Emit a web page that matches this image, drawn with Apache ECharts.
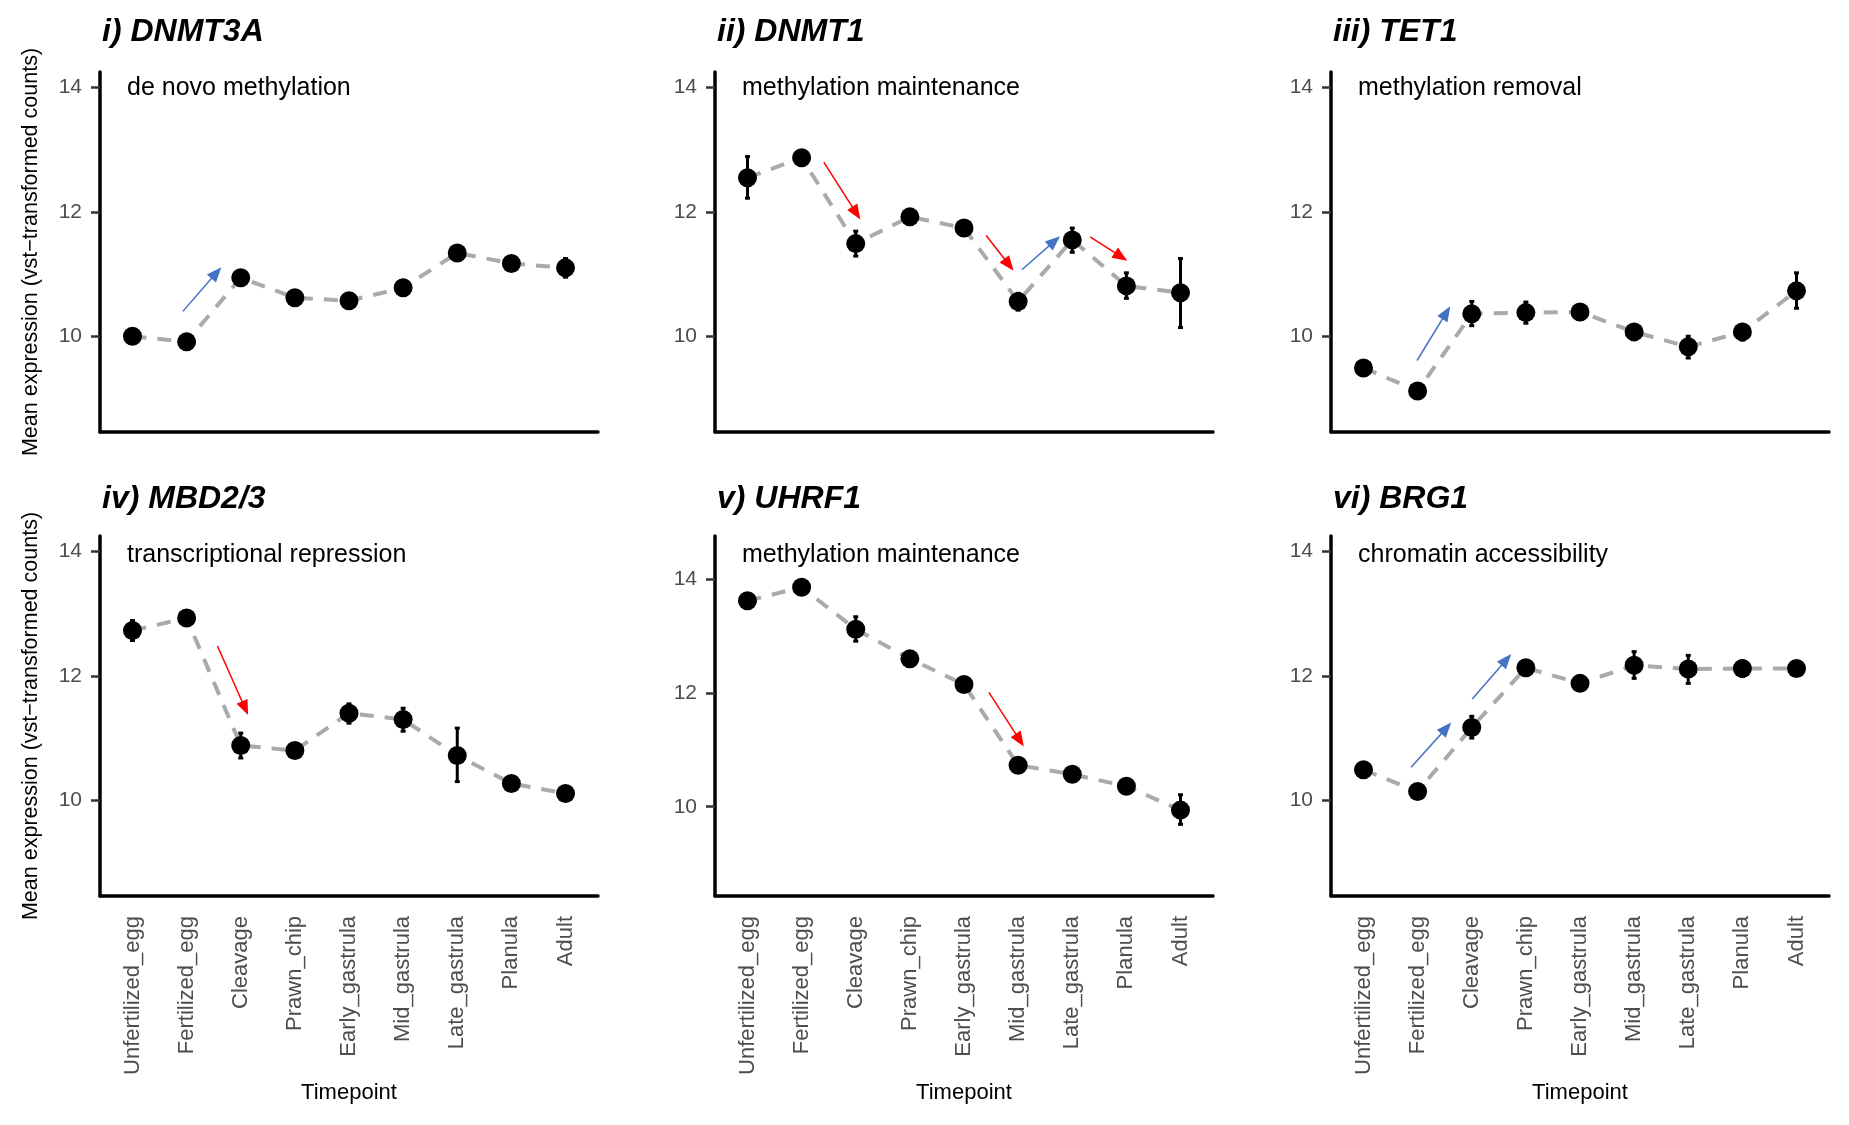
<!DOCTYPE html>
<html>
<head>
<meta charset="utf-8">
<script src="https://cdn.jsdelivr.net/npm/echarts@6/dist/echarts.min.js"></script>
<style>html,body{margin:0;padding:0;background:#fff;}#chart{width:1849px;height:1125px;}</style>
</head>
<body>
<div id="chart"></div>
<script>
// ---- data ----
const categories = ['Unfertilized_egg','Fertilized_egg','Cleavage','Prawn_chip','Early_gastrula','Mid_gastrula','Late_gastrula','Planula','Adult'];
const yTicks = [10, 12, 14];

const geneTitles = ['i) DNMT3A', 'ii) DNMT1', 'iii) TET1', 'iv) MBD2/3', 'v) UHRF1', 'vi) BRG1'];
const geneRoles = ['de novo methylation', 'methylation maintenance', 'methylation removal', 'transcriptional repression', 'methylation maintenance', 'chromatin accessibility'];

const DNMT3A_mean = [10.00, 9.91, 10.94, 10.62, 10.57, 10.78, 11.34, 11.17, 11.10];
const DNMT3A_lo   = [9.95, 9.86, 10.88, 10.57, 10.52, 10.72, 11.29, 11.12, 10.95];
const DNMT3A_hi   = [10.05, 9.96, 11.00, 10.67, 10.62, 10.84, 11.39, 11.22, 11.25];

const DNMT1_mean = [12.55, 12.87, 11.49, 11.92, 11.74, 10.56, 11.55, 10.81, 10.70];
const DNMT1_lo   = [12.22, 12.82, 11.29, 11.87, 11.69, 10.42, 11.35, 10.61, 10.14];
const DNMT1_hi   = [12.89, 12.92, 11.69, 11.97, 11.79, 10.69, 11.74, 11.02, 11.25];

const TET1_mean = [9.49, 9.12, 10.36, 10.38, 10.39, 10.07, 9.83, 10.07, 10.73];
const TET1_lo   = [9.44, 9.07, 10.17, 10.21, 10.34, 10.02, 9.65, 9.94, 10.45];
const TET1_hi   = [9.54, 9.17, 10.56, 10.55, 10.44, 10.12, 10.00, 10.19, 11.02];

const MBD23_mean = [12.73, 12.93, 10.88, 10.80, 11.40, 11.30, 10.72, 10.27, 10.11];
const MBD23_lo   = [12.57, 12.88, 10.68, 10.72, 11.24, 11.11, 10.30, 10.22, 10.06];
const MBD23_hi   = [12.89, 12.98, 11.08, 10.88, 11.55, 11.48, 11.16, 10.32, 10.16];

const UHRF1_mean = [13.62, 13.86, 13.12, 12.60, 12.15, 10.73, 10.57, 10.36, 9.94];
const UHRF1_lo   = [13.57, 13.81, 12.91, 12.55, 12.10, 10.68, 10.52, 10.31, 9.69];
const UHRF1_hi   = [13.67, 13.91, 13.34, 12.65, 12.20, 10.78, 10.62, 10.41, 10.21];

const BRG1_mean = [10.49, 10.14, 11.17, 12.13, 11.88, 12.17, 12.11, 12.12, 12.12];
const BRG1_lo   = [10.44, 10.09, 11.00, 12.08, 11.83, 11.96, 11.88, 11.99, 12.07];
const BRG1_hi   = [10.54, 10.19, 11.35, 12.18, 11.93, 12.39, 12.33, 12.24, 12.17];

// arrows: [x1, y1, x2, y2] in data units (x = category index)
const DNMT3A_arrows = [[0.93, 10.40, 1.55, 11.02]];
const DNMT1_arrows  = [[1.41, 12.80, 2.01, 11.98], [4.41, 11.62, 4.83, 11.15], [5.07, 11.07, 5.67, 11.53], [6.33, 11.60, 6.90, 11.28]];
const TET1_arrows   = [[0.99, 9.61, 1.53, 10.38]];
const MBD23_arrows  = [[1.57, 12.48, 2.08, 11.48]];
const UHRF1_arrows  = [[4.46, 12.01, 5.03, 11.17]];
const BRG1_arrows   = [[0.88, 10.53, 1.53, 11.16], [2.01, 11.63, 2.64, 12.26]];

// y ranges
const yRangeDefault = [8.46, 14.25];
const yRangeUHRF1 = [8.43, 14.76];

// ---- build ----
const panels = [
  {mean: DNMT3A_mean, lo: DNMT3A_lo, hi: DNMT3A_hi, arrows: DNMT3A_arrows, yr: yRangeDefault},
  {mean: DNMT1_mean, lo: DNMT1_lo, hi: DNMT1_hi, arrows: DNMT1_arrows, yr: yRangeDefault},
  {mean: TET1_mean, lo: TET1_lo, hi: TET1_hi, arrows: TET1_arrows, yr: yRangeDefault},
  {mean: MBD23_mean, lo: MBD23_lo, hi: MBD23_hi, arrows: MBD23_arrows, yr: yRangeDefault},
  {mean: UHRF1_mean, lo: UHRF1_lo, hi: UHRF1_hi, arrows: UHRF1_arrows, yr: yRangeUHRF1},
  {mean: BRG1_mean, lo: BRG1_lo, hi: BRG1_hi, arrows: BRG1_arrows, yr: yRangeDefault}
];

const FONT = "'Liberation Sans', Arial, Helvetica, sans-serif";
const colLeft = [100, 715, 1331];
const rowTop = [72, 536];
const gridW = 498, gridH = 360;
const RED = '#FF0000', BLUE = '#4472C4';
const xIdx = categories.map((c, i) => i);

const grids = [], xAxes = [], yAxes = [], series = [], titles = [];

panels.forEach((p, k) => {
  const col = k % 3, row = Math.floor(k / 3);
  grids.push({left: colLeft[col], top: rowTop[row], width: gridW, height: gridH, containLabel: false});
  xAxes.push({
    type: 'value', gridIndex: k, min: -0.6, max: 8.6,
    axisLine: {show: true, onZero: false, lineStyle: {color: '#000', width: 3.5}},
    axisTick: {show: false},
    splitLine: {show: false},
    axisLabel: {
      show: row === 1, customValues: xIdx, rotate: 90, margin: 20,
      color: '#4D4D4D', fontSize: 22, fontFamily: FONT,
      formatter: v => categories[Math.round(v)]
    },
    name: row === 1 ? 'Timepoint' : '', nameLocation: 'middle', nameGap: 186,
    nameTextStyle: {color: '#000', fontSize: 22, fontFamily: FONT}
  });
  yAxes.push({
    type: 'value', gridIndex: k, min: p.yr[0], max: p.yr[1],
    axisLine: {show: true, onZero: false, lineStyle: {color: '#000', width: 3.5}},
    axisTick: {show: true, customValues: yTicks, length: 9, lineStyle: {color: '#333', width: 2.5}},
    splitLine: {show: false},
    axisLabel: {customValues: yTicks, margin: 18, color: '#4D4D4D', fontSize: 21, fontFamily: FONT},
    name: col === 0 ? 'Mean expression (vst\u2212transformed counts)' : '',
    nameLocation: 'middle', nameRotate: 90, nameGap: 58,
    nameTextStyle: {color: '#000', fontSize: 21.5, fontFamily: FONT}
  });
  const pts = p.mean.map((v, i) => [i, v]);
  series.push({
    type: 'line', xAxisIndex: k, yAxisIndex: k, data: pts, showSymbol: false, symbol: 'none',
    lineStyle: {color: '#AAAAAA', width: 4, type: [14, 11]}, z: 1, silent: true,
    markLine: {
      silent: true, symbol: ['none', 'triangle'], symbolSize: [12, 15],
      label: {show: false}, animation: false,
      data: p.arrows.map(a => {
        const c = a[3] < a[1] ? RED : BLUE;
        return [{coord: [a[0], a[1]], lineStyle: {color: c, width: 1.5, type: 'solid'}, itemStyle: {color: c}},
                {coord: [a[2], a[3]], lineStyle: {color: c, width: 1.5, type: 'solid'}, itemStyle: {color: c}}];
      })
    }
  });
  series.push({
    type: 'custom', xAxisIndex: k, yAxisIndex: k, z: 3, silent: true,
    data: p.mean.map((v, i) => [i, p.lo[i], p.hi[i]]),
    encode: {x: 0, y: [1, 2]},
    renderItem: (params, api) => {
      const x = api.value(0);
      const a = api.coord([x, api.value(1)]);
      const b = api.coord([x, api.value(2)]);
      const st = {stroke: '#000', lineWidth: 3};
      return {type: 'group', children: [
        {type: 'line', shape: {x1: a[0], y1: a[1], x2: b[0], y2: b[1]}, style: st},
        {type: 'line', shape: {x1: a[0] - 2.5, y1: a[1], x2: a[0] + 2.5, y2: a[1]}, style: st},
        {type: 'line', shape: {x1: b[0] - 2.5, y1: b[1], x2: b[0] + 2.5, y2: b[1]}, style: st}
      ]};
    }
  });
  series.push({
    type: 'scatter', xAxisIndex: k, yAxisIndex: k, data: pts, symbol: 'circle', symbolSize: 19,
    itemStyle: {color: '#000', opacity: 1}, z: 4, silent: true
  });
  titles.push({
    text: geneTitles[k], left: colLeft[col] + 2, top: (row === 0 ? 16 : 483), padding: 0,
    textStyle: {fontSize: 32, fontWeight: 'bold', fontStyle: 'italic', color: '#000', fontFamily: FONT}
  });
  titles.push({
    text: geneRoles[k], left: colLeft[col] + 27, top: (row === 0 ? 76 : 543), padding: 0,
    textStyle: {fontSize: 25, fontWeight: 'normal', color: '#000', fontFamily: FONT}
  });
});

const chart = echarts.init(document.getElementById('chart'), null, {renderer: 'canvas'});
chart.setOption({
  animation: false, backgroundColor: '#fff',
  title: titles, grid: grids, xAxis: xAxes, yAxis: yAxes, series: series
});
</script>
</body>
</html>
